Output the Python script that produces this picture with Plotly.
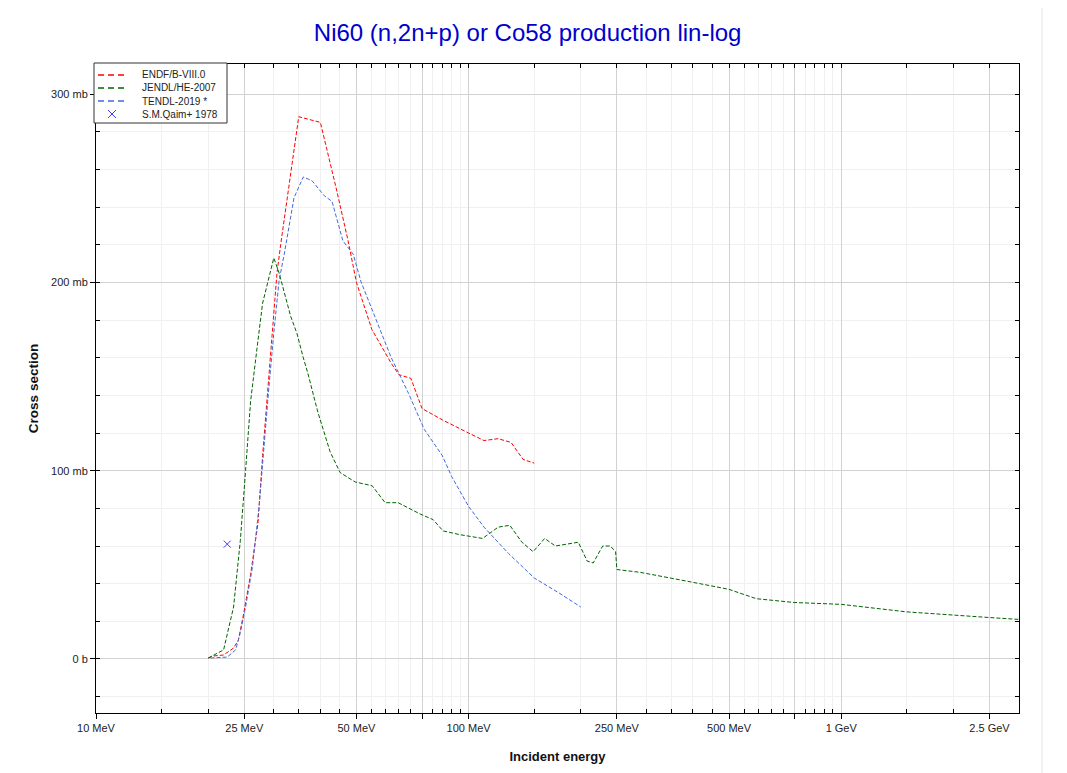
import plotly.graph_objects as go

# ENDF/B-VIII.0 (energy in MeV, cross section in mb)
endf_e = [20, 20.7, 22, 23.4, 24.1, 24.9, 26, 27.2, 28, 28.9, 29.8, 30.6, 31.3, 35, 40, 44,
          47.5, 50, 55, 62, 65, 70, 75, 85, 100, 110, 120, 130, 140, 150]
endf_xs = [0.5, 1.6, 2.1, 5.8, 10, 24, 45, 72, 108, 143, 178, 205, 220, 288, 285, 251,
           222, 200, 175, 157, 151, 149, 133, 127, 120, 116, 117, 115, 106, 104]

# JENDL/HE-2007
jendl_e = [20, 22, 23.4, 24.4, 25.2, 26, 27.2, 28, 30, 31, 33.3, 34.6, 36, 37, 39.4, 40.5,
           42.5, 45.2, 49.6, 55.1, 59.7, 64.7, 74.1, 80.3, 85.4, 94.9, 109, 120, 129, 139,
           149, 160, 171, 197, 208, 216, 229, 240, 248, 250, 289, 393, 499, 592, 748, 1000,
           1500, 2500, 3000]
jendl_xs = [0.5, 4.8, 27.6, 63, 100, 137, 169, 189, 213, 205, 182, 173, 160, 152, 131, 123,
            110, 99, 94, 92, 83, 83, 77, 74, 68, 66, 64, 70, 71, 62,
            57, 64, 60, 62, 52, 51, 60, 60, 57, 47.5, 46, 41, 37, 32, 30, 29,
            25, 22, 21]

# TENDL-2019
tendl_e = [20.3, 22.5, 23.7, 24.4, 25.2, 26.3, 27.4, 28.2, 29.1, 30, 31, 32, 34, 36, 38, 41,
           43, 46, 49, 51.5, 55.5, 58, 62, 69, 76, 85, 90, 100, 110, 128, 150, 175, 200]
tendl_xs = [0.5, 1, 4.8, 14, 27.6, 49, 81, 113, 144, 173, 201, 215, 245, 256, 254, 246,
            243, 222, 215, 200, 184, 175, 160, 141, 122, 108, 97, 81, 70, 56, 43, 35, 27.6]

# S.M.Qaim+ 1978
qaim_e = [22.5]
qaim_xs = [61]

series_names = ["ENDF/B-VIII.0", "JENDL/HE-2007", "TENDL-2019 *", "S.M.Qaim+ 1978"]
series_colors = ["#ff0000", "#006400", "#4169e1", "#3a3aff"]

x_major = [10, 25, 50, 75, 100, 250, 500, 750, 1000, 2500]
x_major_text = ["10 MeV", "25 MeV", "50 MeV", "", "100 MeV", "250 MeV", "500 MeV", "",
                "1 GeV", "2.5 GeV"]
x_minor = [15, 20, 30, 35, 40, 45, 55, 60, 65, 70, 80, 85, 90, 95, 150, 200, 300, 350, 400,
           450, 550, 600, 650, 700, 800, 850, 900, 950, 1500, 2000, 3000]
y_major = [0, 100, 200, 300]
y_major_text = ["0 b", "100 mb", "200 mb", "300 mb"]

x_range = [1, 3.4771]
y_range = [-28.7, 316]

fig = go.Figure()
dash = "4px,2px"
fig.add_trace(go.Scatter(x=endf_e, y=endf_xs, mode="lines", name=series_names[0],
                         line=dict(color=series_colors[0], width=1, dash=dash)))
fig.add_trace(go.Scatter(x=jendl_e, y=jendl_xs, mode="lines", name=series_names[1],
                         line=dict(color=series_colors[1], width=1, dash=dash)))
fig.add_trace(go.Scatter(x=tendl_e, y=tendl_xs, mode="lines", name=series_names[2],
                         line=dict(color=series_colors[2], width=1, dash=dash)))
fig.add_trace(go.Scatter(x=qaim_e, y=qaim_xs, mode="markers", name=series_names[3],
                         marker=dict(symbol="x-thin-open", size=7, color=series_colors[3],
                                     line=dict(color=series_colors[3], width=1))))

# invisible trace so the top/right tick axes are drawn
fig.add_trace(go.Scatter(x=[100], y=[0], xaxis="x2", yaxis="y2", mode="markers",
                         marker=dict(opacity=0), showlegend=False, hoverinfo="skip"))

# legend box drawn by hand (plotly's own legend rows are too tall)
W, H = 923.0, 649.0   # plot area in px


def px(x):
    return (x - 96) / W


def py(y):
    return (713 - y) / H


shapes = [dict(type="rect", xref="paper", yref="paper", x0=px(94), x1=px(227),
               y0=py(123), y1=py(63), fillcolor="white", line=dict(color="#333", width=1),
               layer="above")]
annotations = []
rows = [75, 88, 101, 114]
for i, (name, col) in enumerate(zip(series_names, series_colors)):
    yy = rows[i]
    if i < 3:
        shapes.append(dict(type="line", xref="paper", yref="paper", x0=px(98), x1=px(126),
                           y0=py(yy), y1=py(yy), layer="above",
                           line=dict(color=col, width=1.5, dash="6px,4px")))
    else:
        shapes.append(dict(type="line", xref="paper", yref="paper", x0=px(108), x1=px(116),
                           y0=py(yy - 4), y1=py(yy + 4), layer="above",
                           line=dict(color=col, width=1)))
        shapes.append(dict(type="line", xref="paper", yref="paper", x0=px(108), x1=px(116),
                           y0=py(yy + 4), y1=py(yy - 4), layer="above",
                           line=dict(color=col, width=1)))
    annotations.append(dict(text=name, xref="paper", yref="paper", x=px(140), y=py(yy),
                            xanchor="left", yanchor="middle", showarrow=False,
                            font=dict(size=10, color="#222")))

# faint outer frame line on the right
shapes.append(dict(type="line", xref="paper", yref="paper", x0=px(1042), x1=px(1042),
                   y0=-0.2, y1=1.2, line=dict(color="#e6e6e6", width=1)))

fig.update_layout(
    width=1067, height=773,
    margin=dict(l=88, r=56, t=56, b=68),
    paper_bgcolor="white", plot_bgcolor="white",
    font=dict(family="Liberation Sans, Arial, sans-serif", size=11, color="#222"),
    title=dict(text="Ni60 (n,2n+p) or Co58 production lin-log", x=0.487, y=0.9677,
               xanchor="center", yanchor="middle",
               font=dict(size=24, color="#0000cc")),
    showlegend=False,
    xaxis=dict(type="log", range=x_range, tickvals=x_major, ticktext=x_major_text,
               ticks="outside", ticklen=5, tickcolor="#000", showline=True,
               linecolor="#000", linewidth=1, mirror=True, showgrid=True,
               gridcolor="#d2d2d2", gridwidth=1, zeroline=False,
               tickfont=dict(size=11),
               minor=dict(tickvals=x_minor, ticks="inside", ticklen=4, tickcolor="#000",
                          showgrid=True, gridcolor="#f0f0f0", gridwidth=1),
               title=dict(text="<b>Incident energy</b>", font=dict(size=13, color="#111"),
                          standoff=18)),
    yaxis=dict(range=y_range, tickvals=y_major, ticktext=y_major_text,
               ticks="outside", ticklen=5, tickcolor="#000", showline=True,
               linecolor="#000", linewidth=1, mirror=True, showgrid=True,
               gridcolor="#d2d2d2", gridwidth=1, zeroline=False,
               tickfont=dict(size=11),
               minor=dict(dtick=20, tick0=0, ticks="inside", ticklen=4, tickcolor="#000",
                          showgrid=True, gridcolor="#f0f0f0", gridwidth=1),
               title=dict(text="<b>Cross section</b>", font=dict(size=13.5, color="#111"),
                          standoff=9)),
    xaxis2=dict(type="log", range=x_range, overlaying="x", side="top", matches="x",
                tickvals=x_major + x_minor, ticks="inside", ticklen=4, tickcolor="#000",
                showticklabels=False, showgrid=False, zeroline=False),
    yaxis2=dict(range=y_range, overlaying="y", side="right", matches="y",
                dtick=20, tick0=0, ticks="inside", ticklen=4, tickcolor="#000",
                showticklabels=False, showgrid=False, zeroline=False),
    shapes=shapes,
    annotations=annotations,
)

fig.write_html("out.html")
